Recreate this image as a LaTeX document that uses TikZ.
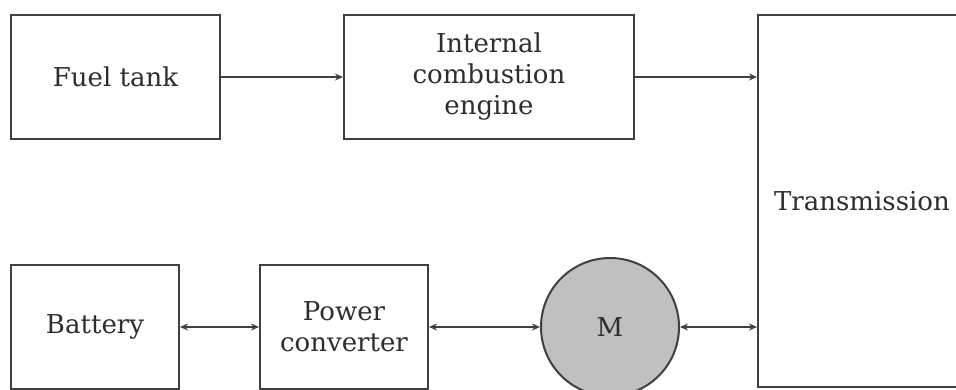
\documentclass[tikz,border=0pt]{standalone}
\usepackage{fontspec}
\setmainfont{DejaVu Serif}
\usetikzlibrary{arrows.meta}
\definecolor{edge}{HTML}{404040}
\definecolor{motor}{HTML}{C0C0C0}
\definecolor{txt}{HTML}{2E2E2E}
\tikzset{
  blk/.style={draw=edge, line width=2pt, rectangle, inner sep=0pt, align=center, text=txt,
    font=\fontsize{26}{31}\selectfont},
  conn/.style={draw=edge, line width=2.4pt, -{Stealth[length=8pt,width=7pt]}},
  biconn/.style={draw=edge, line width=2.4pt, {Stealth[length=8pt,width=7pt]}-{Stealth[length=8pt,width=7pt]}},
}
\begin{document}
\begin{tikzpicture}[x=1pt,y=-1pt]
\useasboundingbox (0,0) rectangle (956,389);
\fill[white] (0,0) rectangle (956,389);
\node[blk, minimum width=209pt, minimum height=124pt] (fuel) at (115.5,77) {Fuel tank};
\node[blk, minimum width=290pt, minimum height=124pt] (ice) at (489,77) {Internal\\combustion\\engine};
\node[blk, minimum width=208pt, minimum height=372pt] (trans) at (862,201) {Transmission};
\node[blk, minimum width=168pt, minimum height=124pt] (bat) at (95,327) {Battery};
\node[blk, minimum width=168pt, minimum height=124pt] (pc) at (344,327) {Power\\converter};
\node[blk, circle, fill=motor, minimum size=138pt] (m) at (610,327) {M};
\coordinate (tin1) at (trans.west |- ice.east);
\coordinate (tin2) at (trans.west |- m.east);
\draw[conn] (fuel.east) -- (ice.west);
\draw[conn] (ice.east) -- (tin1);
\draw[biconn] (bat.east) -- (pc.west);
\draw[biconn] (pc.east) -- (m.west);
\draw[biconn] (m.east) -- (tin2);
\end{tikzpicture}
\end{document}
